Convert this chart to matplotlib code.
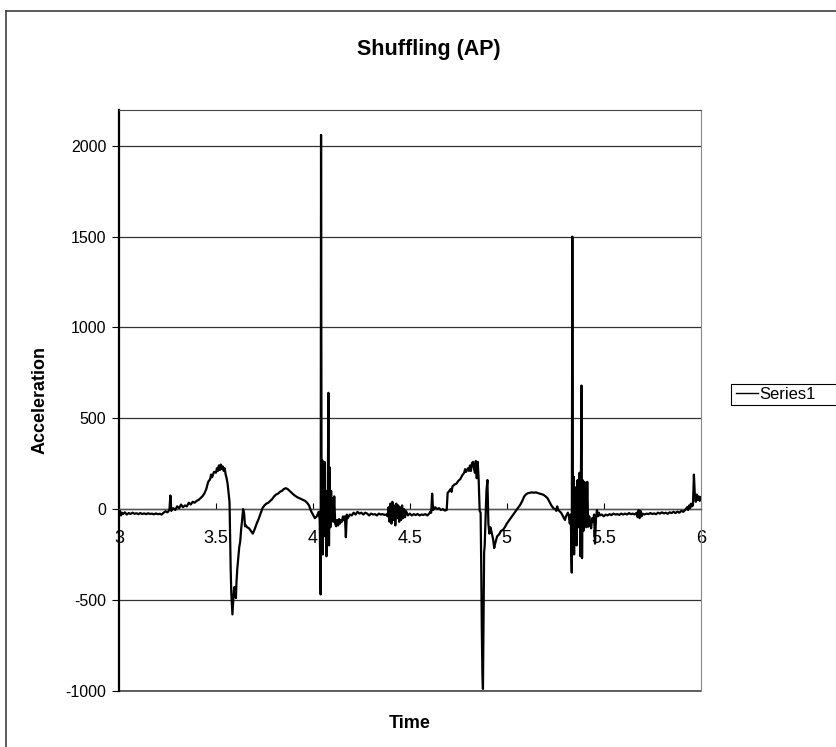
import matplotlib
matplotlib.use('Agg')
import matplotlib.pyplot as plt
from matplotlib.lines import Line2D
from matplotlib.patches import Rectangle

plt.rcParams['font.family'] = ['Liberation Sans', 'DejaVu Sans']
plt.rcParams['axes.unicode_minus'] = False

# time (s) and acceleration values
time = [
    3.000, 3.005, 3.010, 3.015, 3.020, 3.030, 3.040, 3.050, 3.060, 3.070,
    3.080, 3.090, 3.100, 3.110, 3.120, 3.130, 3.140, 3.150, 3.160, 3.170,
    3.180, 3.190, 3.200, 3.210, 3.220, 3.230, 3.240, 3.250, 3.260, 3.265,
    3.270, 3.280, 3.290, 3.300, 3.310, 3.320, 3.330, 3.340, 3.350, 3.360,
    3.370, 3.380, 3.390, 3.400, 3.410, 3.420, 3.430, 3.440, 3.450, 3.460,
    3.470, 3.475, 3.480, 3.490, 3.500, 3.505, 3.510, 3.515, 3.520, 3.525,
    3.530, 3.535, 3.540, 3.545, 3.550, 3.555, 3.560, 3.565, 3.570, 3.573,
    3.576, 3.579, 3.582, 3.585, 3.588, 3.591, 3.594, 3.597, 3.600, 3.603,
    3.606, 3.610, 3.615, 3.620, 3.625, 3.630, 3.635, 3.640, 3.645, 3.650,
    3.655, 3.660, 3.670, 3.680, 3.690, 3.700, 3.710, 3.720, 3.730, 3.740,
    3.750, 3.760, 3.770, 3.780, 3.790, 3.800, 3.810, 3.820, 3.830, 3.840,
    3.850, 3.860, 3.870, 3.880, 3.890, 3.900, 3.910, 3.920, 3.930, 3.940,
    3.950, 3.960, 3.970, 3.980, 3.990, 4.000, 4.010, 4.020, 4.030, 4.035,
    4.040, 4.042, 4.045, 4.048, 4.051, 4.054, 4.057, 4.060, 4.063, 4.066,
    4.070, 4.073, 4.076, 4.080, 4.083, 4.086, 4.090, 4.094, 4.097, 4.100,
    4.105, 4.110, 4.115, 4.120, 4.125, 4.130, 4.135, 4.140, 4.145, 4.150,
    4.155, 4.160, 4.165, 4.170, 4.175, 4.180, 4.190, 4.200, 4.210, 4.220,
    4.230, 4.240, 4.250, 4.260, 4.270, 4.280, 4.290, 4.300, 4.310, 4.320,
    4.330, 4.340, 4.350, 4.360, 4.370, 4.380, 4.385, 4.390, 4.395, 4.400,
    4.405, 4.410, 4.415, 4.420, 4.425, 4.430, 4.435, 4.440, 4.445, 4.450,
    4.455, 4.460, 4.465, 4.470, 4.475, 4.480, 4.490, 4.500, 4.510, 4.520,
    4.530, 4.540, 4.550, 4.560, 4.570, 4.580, 4.590, 4.600, 4.605, 4.610,
    4.615, 4.620, 4.630, 4.640, 4.650, 4.660, 4.670, 4.680, 4.690, 4.695,
    4.700, 4.710, 4.715, 4.720, 4.730, 4.740, 4.750, 4.760, 4.770, 4.780,
    4.785, 4.790, 4.800, 4.805, 4.810, 4.815, 4.820, 4.825, 4.830, 4.835,
    4.840, 4.845, 4.850, 4.855, 4.860, 4.865, 4.868, 4.871, 4.874, 4.877,
    4.880, 4.883, 4.886, 4.890, 4.895, 4.900, 4.905, 4.910, 4.915, 4.920,
    4.930, 4.935, 4.940, 4.950, 4.960, 4.970, 4.980, 4.990, 5.000, 5.010,
    5.020, 5.030, 5.040, 5.050, 5.060, 5.070, 5.080, 5.090, 5.100, 5.110,
    5.120, 5.130, 5.140, 5.150, 5.160, 5.170, 5.180, 5.190, 5.200, 5.210,
    5.220, 5.230, 5.240, 5.250, 5.255, 5.260, 5.265, 5.270, 5.280, 5.290,
    5.300, 5.305, 5.310, 5.315, 5.320, 5.325, 5.330, 5.335, 5.338, 5.341,
    5.344, 5.347, 5.350, 5.353, 5.356, 5.360, 5.365, 5.370, 5.375, 5.380,
    5.385, 5.388, 5.391, 5.395, 5.400, 5.405, 5.410, 5.415, 5.420, 5.425,
    5.430, 5.435, 5.440, 5.445, 5.450, 5.455, 5.460, 5.465, 5.470, 5.475,
    5.480, 5.490, 5.500, 5.510, 5.520, 5.530, 5.540, 5.550, 5.560, 5.570,
    5.580, 5.590, 5.600, 5.610, 5.620, 5.630, 5.640, 5.650, 5.660, 5.670,
    5.675, 5.680, 5.685, 5.690, 5.695, 5.700, 5.710, 5.720, 5.730, 5.740,
    5.750, 5.760, 5.770, 5.780, 5.790, 5.800, 5.810, 5.820, 5.830, 5.840,
    5.850, 5.860, 5.870, 5.880, 5.890, 5.900, 5.910, 5.920, 5.930, 5.935,
    5.940, 5.945, 5.950, 5.955, 5.960, 5.965, 5.970, 5.975, 5.980, 5.985,
    5.990, 5.995, 6.000,
]
accel = [
    -25, -10, -35, -20, -28, -18, -30, -22, -27, -20,
    -26, -23, -28, -22, -27, -24, -28, -23, -27, -25,
    -29, -24, -28, -26, -30, -20, -12, -18, -5, 75,
    -10, 5, -5, 15, 5, 25, 10, 20, 15, 35,
    25, 40, 35, 45, 50, 60, 70, 85, 110, 150,
    165, 190, 175, 205, 200, 225, 210, 240, 215, 245,
    220, 235, 210, 225, 190, 170, 140, 90, 40, -150,
    -330, -460, -520, -580, -520, -470, -430, -480, -430, -490,
    -400, -330, -270, -210, -180, -110, -60, 0, -20, -95,
    -90, -100, -105, -120, -135, -110, -80, -55, -25, 5,
    20, 30, 35, 45, 55, 70, 80, 85, 95, 100,
    110, 115, 110, 100, 90, 80, 72, 65, 60, 55,
    50, 45, 35, 20, -10, -30, -50, -40, -15, -60,
    -470, 2060, -200, 270, -250, 150, -150, 260, -120, -50,
    -260, 100, -80, 640, -200, 230, -100, 100, -60, 60,
    -70, 70, -80, -95, -60, -90, -55, -80, -60, -70,
    -40, -60, -40, -155, -30, -50, -30, -35, -20, -30,
    -15, -25, -20, -30, -20, -25, -35, -25, -30, -28,
    -35, -25, -30, -28, -32, -30, -40, 10, -70, 30,
    -80, 40, -60, 20, -90, 30, -50, 20, -70, 10,
    -60, 20, -50, 0, -45, -10, -35, -25, -35, -28,
    -33, -27, -35, -30, -32, -28, -35, -25, -15, -20,
    85, -5, 10, 0, 5, -5, 0, -8, -5, 90,
    95, 110, 95, 125, 135, 140, 155, 165, 185, 200,
    220, 205, 225, 210, 240, 210, 250, 260, 230, 200,
    265, 170, 260, 160, -10, -20, -300, -650, -900, -990,
    -600, -240, -200, -60, 100, 160, -80, -135, -100, -120,
    -170, -215, -190, -150, -140, -120, -115, -100, -80, -65,
    -50, -35, -20, -5, 10, 25, 45, 70, 82, 88,
    90, 92, 90, 92, 88, 85, 82, 78, 70, 60,
    40, 20, 5, 0, -10, 15, -5, -10, -20, -40,
    -60, -40, -30, -20, -40, -80, -30, -350, 1500, -100,
    180, -250, 105, -170, 120, -200, 160, -100, 200, -260,
    680, -270, 160, -120, 150, -60, -100, 150, -97, -40,
    -80, -106, -50, -70, -30, -190, -50, -5, -40, -20,
    -35, -30, -40, -30, -35, -28, -33, -25, -30, -28,
    -32, -25, -30, -25, -30, -22, -28, -25, -30, -20,
    -45, -5, -50, -10, -40, -25, -30, -25, -28, -22,
    -27, -24, -28, -20, -25, -18, -24, -20, -26, -18,
    -22, -15, -22, -14, -20, -10, -15, -5, 10, -5,
    20, 5, 30, 15, 20, 190, 70, 40, 80, 50,
    70, 45, 65,
]

x_ticks = [3, 3.5, 4, 4.5, 5, 5.5, 6]
x_labels = ['3', '3.5', '4', '4.5', '5', '5.5', '6']
y_ticks = [-1000, -500, 0, 500, 1000, 1500, 2000]

W, H = 836, 747
fig = plt.figure(figsize=(W / 100, H / 100), dpi=100)
ax = fig.add_axes([119 / W, 1 - 690.7 / H, (700.7 - 119) / W, (690.7 - 109.5) / H])

ax.plot(time, accel, color='black', lw=1.6, label='Series1', zorder=3)

ax.set_xlim(3, 6)
ax.set_ylim(-1000, 2200)
ax.set_yticks(y_ticks)
ax.set_xticks(x_ticks)
ax.set_xticklabels(x_labels)
ax.grid(axis='y', color='#333333', lw=0.9)
ax.set_axisbelow(True)

# x axis crosses at zero, plot area keeps a border
ax.spines['bottom'].set_position(('data', 0))
ax.spines['bottom'].set_color('#555555')
ax.spines['bottom'].set_linewidth(1.0)
ax.spines['left'].set_linewidth(1.6)
ax.spines['top'].set_color('#444444')
ax.spines['right'].set_color('#888888')
ax.axhline(-1000, color='#444444', lw=1.2, clip_on=False)

ax.tick_params(axis='x', direction='in', length=4, pad=15, labelsize=13)
ax.tick_params(axis='y', direction='out', length=5, labelsize=11.5, pad=4)

fig.text(429 / W, 1 - 50 / H, 'Shuffling (AP)', ha='center', va='center',
         fontsize=15.5, fontweight='bold')
fig.text(40 / W, 1 - 400 / H, 'Acceleration', ha='center', va='center',
         rotation=90, fontsize=13, fontweight='bold')
fig.text(410 / W, 1 - 724 / H, 'Time', ha='center', va='center',
         fontsize=13, fontweight='bold')

# chart area border (runs off the right and bottom edges)
fig.add_artist(Line2D([5.5 / W, 5.5 / W], [0, 1 - 11 / H], color='#404040', lw=1.2))
fig.add_artist(Line2D([5.5 / W, 1], [1 - 11 / H, 1 - 11 / H], color='#404040', lw=1.2))

# legend, its box runs past the right edge of the picture
leg = fig.legend(loc='center left', bbox_to_anchor=(733 / W, 1 - 394.5 / H),
                 fontsize=12, frameon=False, handlelength=1.3,
                 handletextpad=0.1, borderpad=0.2, borderaxespad=0)
for line in leg.get_lines():
    line.set_linewidth(1.0)
fig.add_artist(Rectangle((731 / W, 1 - 405 / H), 150 / W, 21 / H, fill=False,
                         ec='black', lw=0.8))

fig.savefig('out.png', dpi=100)
